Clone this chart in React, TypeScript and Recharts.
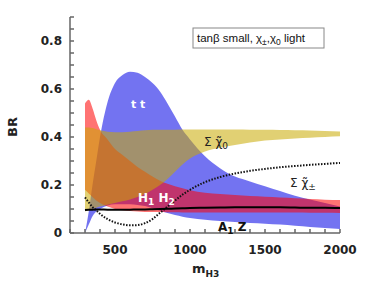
import React from "react";
import {
  ComposedChart,
  Area,
  Line,
  XAxis,
  YAxis,
} from "recharts";

// m_H3 sample points
const MASS = [
  300, 325, 350, 375, 400, 450, 500, 550, 600, 650, 700, 750, 800, 850, 900,
  950, 1000, 1100, 1200, 1300, 1400, 1500, 1600, 1700, 1800, 1900, 2000,
];

// t t band
const TT_LOW = [
  0, 0.035, 0.07, 0.09, 0.1, 0.115, 0.12, 0.12, 0.12, 0.117, 0.112, 0.103,
  0.093, 0.083, 0.075, 0.068, 0.062, 0.055, 0.05, 0.046, 0.042, 0.039, 0.035,
  0.03, 0.025, 0.021, 0.017,
];
const TT_HIGH = [
  0, 0.09, 0.2, 0.3, 0.4, 0.545, 0.625, 0.658, 0.672, 0.668, 0.65, 0.625, 0.59,
  0.54, 0.485, 0.43, 0.39, 0.32, 0.27, 0.235, 0.215, 0.195, 0.175, 0.155,
  0.14, 0.125, 0.11,
];

// H1 H2 band
const HH_LOW = [
  0.18, 0.165, 0.15, 0.135, 0.125, 0.11, 0.1, 0.095, 0.092, 0.09, 0.088,
  0.087, 0.087, 0.086, 0.086, 0.085, 0.085, 0.085, 0.085, 0.085, 0.085,
  0.085, 0.085, 0.085, 0.084, 0.084, 0.083,
];
const HH_HIGH = [
  0.54, 0.555, 0.52, 0.47, 0.43, 0.39, 0.35, 0.325, 0.3, 0.275, 0.255, 0.235,
  0.218, 0.205, 0.195, 0.186, 0.178, 0.168, 0.163, 0.158, 0.154, 0.151,
  0.148, 0.145, 0.142, 0.139, 0.137,
];

// sum of neutralinos band
const CHI0_LOW = [
  0.09, 0.095, 0.1, 0.105, 0.11, 0.118, 0.125, 0.132, 0.14, 0.15, 0.163,
  0.18, 0.2, 0.225, 0.255, 0.285, 0.31, 0.34, 0.355, 0.367, 0.377, 0.385,
  0.39, 0.394, 0.397, 0.4, 0.403,
];
const CHI0_HIGH = [
  0.44, 0.44, 0.437, 0.432, 0.428, 0.422, 0.42, 0.42, 0.422, 0.425, 0.428,
  0.43, 0.43, 0.43, 0.43, 0.431, 0.431, 0.431, 0.431, 0.431, 0.43, 0.43,
  0.429, 0.428, 0.427, 0.425, 0.423,
];

// sum of charginos (dotted)
const CHIPM = [
  0.148, 0.128, 0.108, 0.094, 0.08, 0.058, 0.044, 0.036, 0.032, 0.033, 0.041,
  0.058, 0.084, 0.11, 0.135, 0.16, 0.18, 0.212, 0.233, 0.248, 0.259, 0.267,
  0.274, 0.279, 0.284, 0.288, 0.292,
];

// A1 Z (solid)
const A1Z = [
  0.096, 0.097, 0.097, 0.098, 0.098, 0.097, 0.097, 0.097, 0.097, 0.098,
  0.098, 0.099, 0.1, 0.101, 0.102, 0.103, 0.104, 0.105, 0.106, 0.107, 0.107,
  0.107, 0.107, 0.106, 0.105, 0.105, 0.104,
];

const X_TICKS = [
  200, 300, 400, 500, 600, 700, 800, 900, 1000, 1100, 1200, 1300, 1400, 1500,
  1600, 1700, 1800, 1900, 2000,
];
const X_LABELS = [500, 1000, 1500, 2000];
const Y_TICKS = [
  0, 0.05, 0.1, 0.15, 0.2, 0.25, 0.3, 0.35, 0.4, 0.45, 0.5, 0.55, 0.6, 0.65,
  0.7, 0.75, 0.8, 0.85, 0.9,
];
const Y_LABELS = [0, 0.2, 0.4, 0.6, 0.8];

const data = MASS.map((m, i) => ({
  m,
  tt: [TT_LOW[i], TT_HIGH[i]],
  hh: [HH_LOW[i], HH_HIGH[i]],
  chi0: [CHI0_LOW[i], CHI0_HIGH[i]],
  chipm: CHIPM[i],
  a1z: A1Z[i],
}));

const FRAME = "#666";
const TICK_FONT = {
  fontFamily: "DejaVu Sans",
  fontWeight: 700,
  fontSize: 12,
  fill: "#222",
};

const fmtX = (v: number) => (X_LABELS.includes(v) ? String(v) : "");
const fmtY = (v: number) =>
  Y_LABELS.some((l) => Math.abs(l - v) < 1e-6) ? (v === 0 ? "0" : v.toFixed(1)) : "";

export default function App() {
  return (
    <div style={{ position: "relative", width: 366, height: 292, background: "#fff" }}>
      <style>{"body{margin:0}"}</style>
      <ComposedChart
        width={366}
        height={292}
        data={data}
        margin={{ top: 17, right: 26, bottom: 0, left: 0 }}
      >
        <XAxis
          dataKey="m"
          type="number"
          domain={[200, 2000]}
          ticks={X_TICKS}
          tickFormatter={fmtX}
          tickSize={-4}
          tickMargin={16}
          height={59}
          stroke={FRAME}
          strokeWidth={1.5}
          tick={TICK_FONT}
          interval={0}
        />
        <XAxis
          xAxisId="top"
          orientation="top"
          type="number"
          dataKey="m"
          domain={[200, 2000]}
          ticks={X_TICKS}
          tick={false}
          tickSize={-4}
          height={0}
          stroke={FRAME}
          strokeWidth={1.5}
          interval={0}
        />
        <YAxis
          type="number"
          domain={[0, 0.9]}
          ticks={Y_TICKS}
          tickFormatter={fmtY}
          tickSize={-4}
          tickMargin={12}
          width={70}
          stroke={FRAME}
          strokeWidth={1.5}
          tick={TICK_FONT}
          interval={0}
          allowDataOverflow
        />
        <YAxis
          yAxisId="right"
          orientation="right"
          type="number"
          domain={[0, 0.9]}
          ticks={Y_TICKS}
          tick={false}
          tickSize={-4}
          width={0}
          stroke={FRAME}
          strokeWidth={1.5}
          interval={0}
        />
        <Area
          dataKey="tt"
          type="monotone"
          stroke="none"
          fill="#0000e6"
          fillOpacity={0.55}
          isAnimationActive={false}
        />
        <Area
          dataKey="hh"
          type="monotone"
          stroke="none"
          fill="#ff0000"
          fillOpacity={0.55}
          isAnimationActive={false}
        />
        <Area
          dataKey="chi0"
          type="monotone"
          stroke="none"
          fill="#c8aa00"
          fillOpacity={0.55}
          isAnimationActive={false}
        />
        <Line
          dataKey="chipm"
          type="monotone"
          stroke="#111"
          strokeWidth={2}
          strokeDasharray="1.5 1.5"
          dot={false}
          isAnimationActive={false}
        />
        <Line
          dataKey="a1z"
          type="monotone"
          stroke="#000"
          strokeWidth={2}
          dot={false}
          isAnimationActive={false}
        />
      </ComposedChart>

      <svg
        width={366}
        height={292}
        style={{ position: "absolute", left: 0, top: 0, pointerEvents: "none" }}
      >
        {/* legend box */}
        <rect x={193} y={28} width={131} height={20} fill="#fff" stroke="#888" strokeWidth={1} />
        <text x={197} y={42} fontFamily="Liberation Sans" fontSize={11.5} fill="#111">
          tanβ small, χ
          <tspan dy={3} fontSize={8.5}>±</tspan>
          <tspan dy={-3}>,χ</tspan>
          <tspan dy={3} fontSize={8.5}>0</tspan>
          <tspan dy={-3}> light</tspan>
        </text>

        {/* band labels */}
        <text x={131} y={108} fontFamily="DejaVu Sans" fontWeight={700} fontSize={11} fill="#fff">
          t t
        </text>
        <text x={204} y={146} fontFamily="DejaVu Sans" fontSize={12} fill="#222">
          Σ χ̃
          <tspan dy={3} fontSize={9}>0</tspan>
        </text>
        <text x={290} y={187} fontFamily="DejaVu Sans" fontSize={12} fill="#222">
          Σ χ̃
          <tspan dy={3} fontSize={9}>±</tspan>
        </text>
        <text x={138} y={202} fontFamily="DejaVu Sans" fontWeight={700} fontSize={12} fill="#fff">
          H
          <tspan dy={3} fontSize={9}>1</tspan>
          <tspan dy={-3}> H</tspan>
          <tspan dy={3} fontSize={9}>2</tspan>
        </text>
        <text x={218} y={231} fontFamily="DejaVu Sans" fontWeight={700} fontSize={12} fill="#111">
          A
          <tspan dy={3} fontSize={9}>1</tspan>
          <tspan dy={-3}> Z</tspan>
        </text>

        {/* axis titles */}
        <text
          x={17}
          y={127}
          transform="rotate(-90 17 127)"
          textAnchor="middle"
          fontFamily="DejaVu Sans"
          fontWeight={700}
          fontSize={13}
          fill="#222"
        >
          BR
        </text>
        <text x={192} y={273} fontFamily="DejaVu Sans" fontWeight={700} fontSize={13} fill="#222">
          m
          <tspan dy={4} fontSize={9}>H3</tspan>
        </text>
      </svg>
    </div>
  );
}
